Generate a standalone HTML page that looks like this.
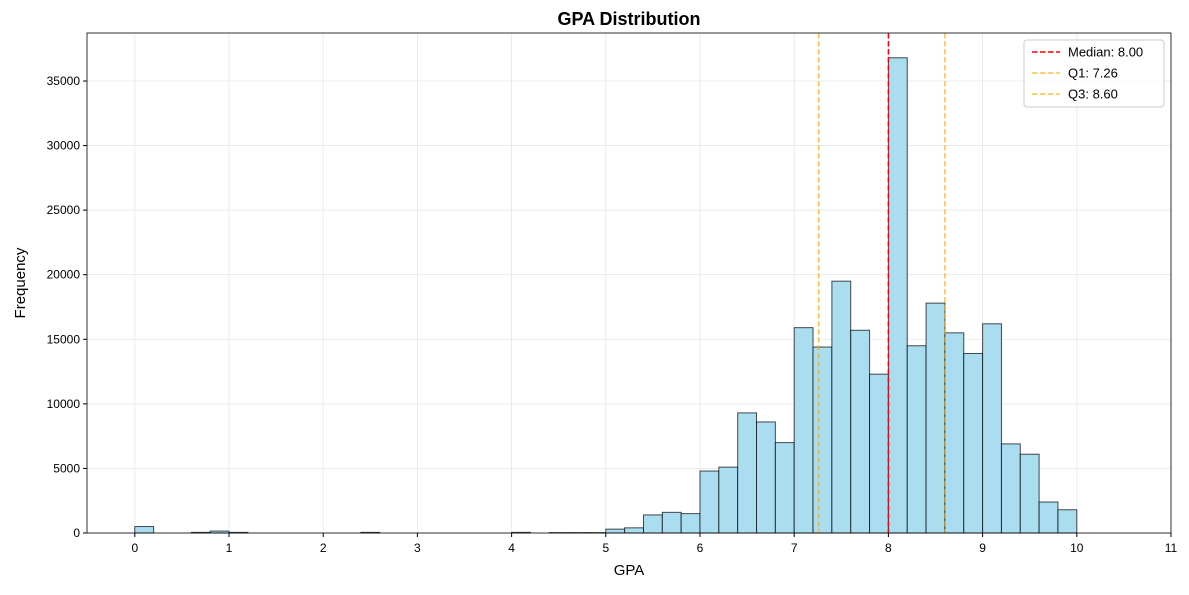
<!DOCTYPE html>
<html><head><meta charset="utf-8"><style>
html,body{margin:0;padding:0;background:#fff;}
svg text{font-family:"Liberation Sans","DejaVu Sans",sans-serif;}
</style></head><body>
<svg id="s" width="1189" height="590" xmlns="http://www.w3.org/2000/svg"></svg>
<script>
const s=document.getElementById('s');
const L=87,R=1171,T=33,B=533;
const X=v=>134.8+v*94.2, Y=v=>B-v*(500/38716);
let h='';
// grid
for(let i=0;i<=11;i++){h+=`<line x1="${X(i)}" x2="${X(i)}" y1="${T}" y2="${B}" stroke="#e6e6e6" stroke-width="0.8"/>`;}
for(let v=0;v<=35000;v+=5000){h+=`<line x1="${L}" x2="${R}" y1="${Y(v)}" y2="${Y(v)}" stroke="#e6e6e6" stroke-width="0.8"/>`;}
const d={0:500,3:50,4:150,5:50,12:50,20:50,22:30,23:30,24:30,25:300,26:400,27:1400,28:1600,29:1500,30:4800,31:5100,32:9300,33:8600,34:7000,35:15900,36:14400,37:19500,38:15700,39:12300,40:36800,41:14500,42:17800,43:15500,44:13900,45:16200,46:6900,47:6100,48:2400,49:1800};
for(const k in d){const x0=X(k*0.2),x1=X(k*0.2+0.2),y=Y(d[k]);
h+=`<rect x="${x0}" y="${y}" width="${x1-x0}" height="${B-y}" fill="rgb(171,221,241)" stroke="rgba(0,0,0,0.7)" stroke-width="1"/>`;}
h+=`<line x1="${X(8)}" x2="${X(8)}" y1="${T}" y2="${B}" stroke="red" stroke-width="1.5" stroke-dasharray="5.5,2.5"/>`;
for(const q of [7.26,8.6]) h+=`<line x1="${X(q)}" x2="${X(q)}" y1="${T}" y2="${B}" stroke="rgba(255,165,0,0.7)" stroke-width="1.5" stroke-dasharray="5.5,2.5"/>`;
h+=`<rect x="${L}" y="${T}" width="${R-L}" height="${B-T}" fill="none" stroke="#000" stroke-width="0.8"/>`;
for(let i=0;i<=11;i++){h+=`<line x1="${X(i)}" x2="${X(i)}" y1="${B}" y2="${B+4}" stroke="#000"/><text x="${X(i)}" y="${B+19}" font-size="12" text-anchor="middle">${i}</text>`;}
for(let v=0;v<=35000;v+=5000){h+=`<line x1="${L-4}" x2="${L}" y1="${Y(v)}" y2="${Y(v)}" stroke="#000"/><text x="${L-7}" y="${Y(v)+4}" font-size="12" text-anchor="end">${v}</text>`;}
h+=`<text x="629" y="575" font-size="15" text-anchor="middle">GPA</text>`;
h+=`<text x="25" y="283" font-size="15" text-anchor="middle" transform="rotate(-90 25 283)">Frequency</text>`;
h+=`<text x="629" y="25" font-size="18" font-weight="bold" text-anchor="middle">GPA Distribution</text>`;
// legend
h+=`<rect x="1024" y="40" width="140" height="67" rx="3" fill="rgba(255,255,255,0.8)" stroke="#ccc"/>`;
const lg=[["red","Median: 8.00"],["rgba(255,165,0,0.7)","Q1: 7.26"],["rgba(255,165,0,0.7)","Q3: 8.60"]];
lg.forEach((e,i)=>{const y=52+i*21;h+=`<line x1="1032" x2="1060" y1="${y}" y2="${y}" stroke="${e[0]}" stroke-width="1.5" stroke-dasharray="5.5,2.5"/><text x="1068" y="${y+4.5}" font-size="13">${e[1]}</text>`;});
s.innerHTML=h;
</script>
</body></html>
